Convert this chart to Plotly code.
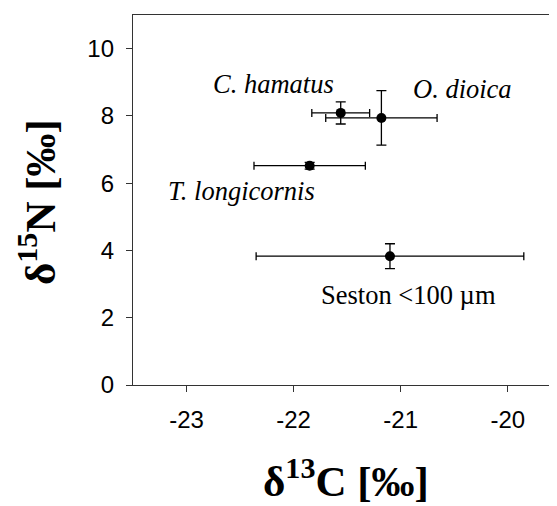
import plotly.graph_objects as go

# Data
species = ["C. hamatus", "O. dioica", "T. longicornis", "Seston <100 µm"]
d13c = [-21.56, -21.18, -21.85, -21.10]
d13c_err = [0.27, 0.52, 0.52, 1.25]
d15n = [8.09, 7.94, 6.52, 3.83]
d15n_err = [0.33, 0.81, 0.10, 0.37]

label_x = [-22.19, -20.42, -22.49, -20.93]
label_y = [8.96, 8.79, 5.76, 2.67]
label_text = ["<i>C. hamatus</i>", "<i>O. dioica</i>", "<i>T. longicornis</i>", "Seston <100 µm"]

x_ticks = [-23, -22, -21, -20]
y_ticks = [0, 2, 4, 6, 8, 10]

x_title = "<b>δ<sup>13</sup>C [‰]</b>"
y_title = "<b>δ<sup>15</sup>N [‰]</b>"

axis_col = "#333333"
serif = "Liberation Serif, Times New Roman, serif"

fig = go.Figure()
fig.add_trace(go.Scatter(
    x=d13c, y=d15n, mode="markers",
    marker=dict(color="black", size=10),
    error_x=dict(type="data", array=d13c_err, color="black", thickness=1.3, width=4),
    error_y=dict(type="data", array=d15n_err, color="black", thickness=1.3, width=5),
    text=species, hoverinfo="text+x+y", showlegend=False,
))

for tx, ty, tt in zip(label_x, label_y, label_text):
    fig.add_annotation(x=tx, y=ty, text=tt, showarrow=False,
                       font=dict(family=serif, size=26.5, color="black"),
                       xanchor="center", yanchor="middle")

# axis titles as paper-anchored annotations
fig.add_annotation(xref="paper", yref="paper", x=0.502, y=-0.251, text=x_title,
                   showarrow=False, xanchor="center", yanchor="middle",
                   font=dict(family=serif, size=43, color="black"))
fig.add_annotation(xref="paper", yref="paper", x=-0.226, y=0.495, text=y_title,
                   showarrow=False, xanchor="center", yanchor="middle", textangle=-90,
                   font=dict(family=serif, size=43, color="black"))

# the page body adds an 8px margin, so the figure is sized to fit the window
fig.update_layout(
    width=549, height=498,
    margin=dict(l=125, r=0, t=7, b=121),
    paper_bgcolor="white", plot_bgcolor="white",
    font=dict(family="Liberation Sans", color="black"),
    xaxis=dict(
        range=[-23.5, -19.54], tickvals=x_ticks, ticktext=[str(v) for v in x_ticks],
        showgrid=False, zeroline=False, showline=True, linecolor=axis_col, linewidth=1.3,
        mirror=True, ticks="outside", ticklen=6, tickcolor=axis_col, tickwidth=1.3,
        ticklabelstandoff=7, automargin=False,
        tickfont=dict(family="Liberation Sans", size=24, color="black"),
        fixedrange=True,
    ),
    yaxis=dict(
        range=[0, 11], tickvals=y_ticks, ticktext=[str(v) for v in y_ticks],
        showgrid=False, zeroline=False, showline=True, linecolor=axis_col, linewidth=1.3,
        ticks="outside", ticklen=6, tickcolor=axis_col, tickwidth=1.3,
        ticklabelstandoff=7, automargin=False,
        tickfont=dict(family="Liberation Sans", size=24, color="black"),
        fixedrange=True,
    ),
)

fig.write_html("out.html")
